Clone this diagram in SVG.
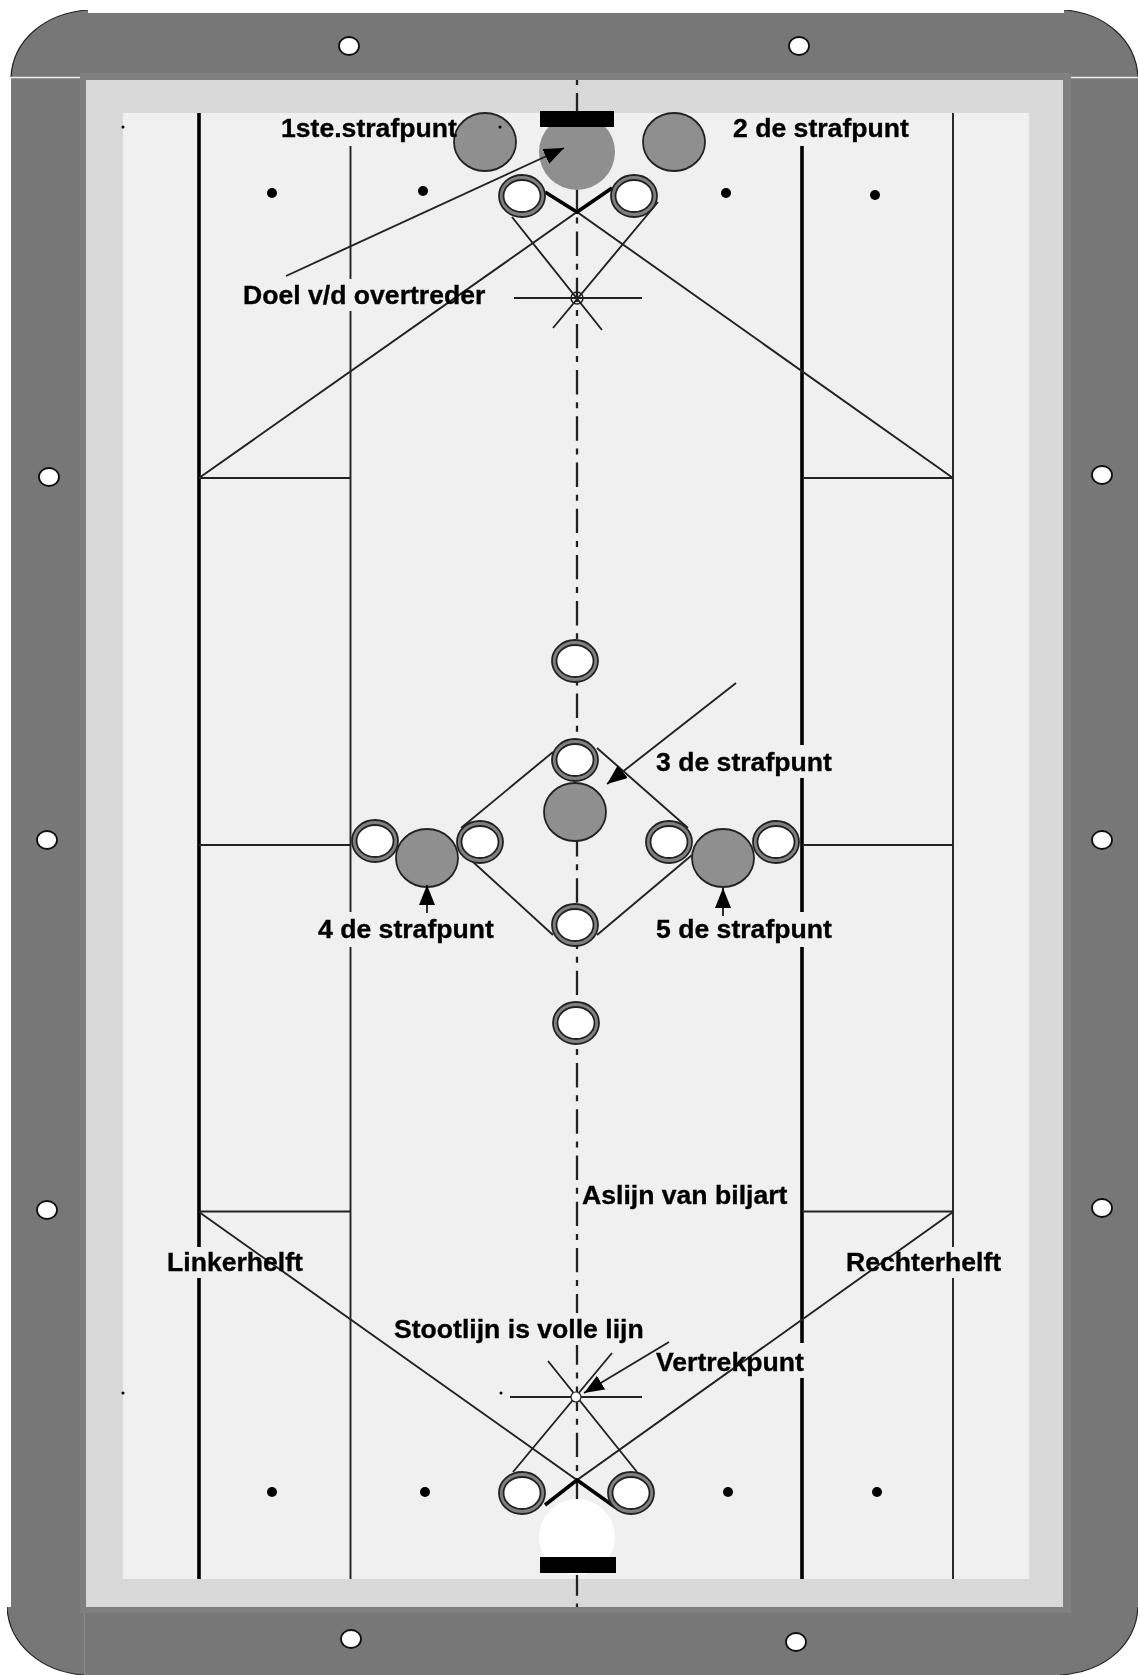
<svg xmlns="http://www.w3.org/2000/svg" width="1138" height="1675" viewBox="0 0 1138 1675">
<style>
.t{font:bold 26.6px "Liberation Sans",Arial,sans-serif;fill:#000;stroke:#000;stroke-width:.35}
.l{stroke:#222;stroke-width:1.9;fill:none}
.k{stroke:#000;stroke-width:3.6;fill:none}
.c{stroke:#222;stroke-width:2.3;fill:none;stroke-dasharray:24.4 7.8 6 8}
.g{fill:#8f8f8f;stroke:#222;stroke-width:1.8}
.o{fill:#808080;stroke:#222;stroke-width:1.8}
.i{fill:#fff;stroke:#222;stroke-width:1.8}
.d{fill:#000}
.h{fill:#fff;stroke:#111;stroke-width:1.8}
</style>
<defs>
<filter id="s" x="0" y="0" width="100%" height="100%"><feGaussianBlur stdDeviation="0.45"/></filter>
<marker id="a" markerUnits="userSpaceOnUse" markerWidth="24" markerHeight="18" refX="20" refY="8" orient="auto"><path d="M0 0L20 8L0 16Z" fill="#000"/></marker>
<g id="b"><ellipse class="o" rx="23" ry="21"/><ellipse class="i" rx="18.500" ry="16"/></g>
</defs>
<rect width="1138" height="1675" fill="#fff"/>
<g filter="url(#s)">
<g id="table">
<path d="M11 77C13 40 45 13 88 10V13H1064V10C1105 13 1136 40 1138 77V1607C1136 1645 1105 1672 1060 1675H84C42 1672 9 1645 7 1607L11 1607Z" fill="#777"/>
<path d="M11 77C13 40 45 13 88 10M1064 10C1105 13 1136 40 1138 77M7 1607C9 1645 42 1672 84 1675M1138 1607C1136 1645 1105 1672 1060 1675" fill="none" stroke="#222" stroke-width="1.2"/>
<rect x="80" y="73" width="991" height="1540" fill="#808080"/>
<rect x="86" y="80" width="977" height="1527" fill="#d9d9d9"/>
<rect x="123" y="113" width="906" height="1466" fill="#f0f0f0"/>
<path d="M11 77.500H80M1071 77.500H1138" stroke="#eee" stroke-width="1.500"/>
<path d="M84.500 1613V1675" stroke="#8c8c8c" stroke-width="1.200"/>
</g>
<g id="holes">
<ellipse class="h" cx="349" cy="46" rx="10" ry="9"/><ellipse class="h" cx="799" cy="46" rx="10" ry="9"/>
<ellipse class="h" cx="49" cy="477" rx="10" ry="9"/><ellipse class="h" cx="47" cy="840" rx="10" ry="9"/><ellipse class="h" cx="47" cy="1210" rx="10" ry="9"/>
<ellipse class="h" cx="1102" cy="475" rx="10" ry="9"/><ellipse class="h" cx="1102" cy="840" rx="10" ry="9"/><ellipse class="h" cx="1102" cy="1208" rx="10" ry="9"/>
<ellipse class="h" cx="351" cy="1639" rx="10" ry="9"/><ellipse class="h" cx="796" cy="1642" rx="10" ry="9"/>
</g>
<g id="connectors">
<path class="k" d="M199 113V1247M199 1278V1579M802 146V745M802 778V912M802 947V1343M802 1378V1579"/>
<path class="l" d="M350.500 146V279M350.500 311V912M350.500 947V1579M953 113V1247M953 1278V1579"/>
<path class="l" d="M199 478H350M802 478H953M199 845H350M802 845H953M199 1211.500H350M802 1211.500H953"/>
<path class="l" d="M199 478L577 212L953 478M199 1212L577 1480L953 1212"/>
<path class="c" stroke-dashoffset="33.300" d="M577 80V1313"/>
<path class="c" stroke-dashoffset="4.700" d="M577 1345V1607"/>
<path class="l" d="M512 217L602 330M658 202L553 328M514 298H642"/>
<path class="l" d="M513 1472L612 1353M637 1472L548 1361M510 1397H642"/>
<path class="k" d="M545 192L577 212L612 188M545 1505L577 1480L615 1507"/>
<path class="l" d="M553 752L461 828M597 748L688 828M461 851L553 935M597 935L692 855"/>
</g>
<g id="spot-top">
<circle cx="577" cy="152" r="38" fill="#8f8f8f"/>
<rect x="540" y="111" width="74" height="16" fill="#000"/>
<ellipse class="g" cx="485" cy="142" rx="31" ry="29"/>
<ellipse class="g" cx="674" cy="142" rx="31" ry="29"/>
<use href="#b" x="522" y="196"/><use href="#b" x="634" y="196"/>
<circle cx="577" cy="298" r="6" fill="none" stroke="#222" stroke-width="1.500"/>
</g>
<g id="spot-mid">
<use href="#b" x="575" y="661"/><use href="#b" x="575" y="760"/>
<ellipse class="g" cx="575" cy="812" rx="31" ry="29"/>
<ellipse class="g" cx="427" cy="858" rx="31" ry="29"/><ellipse class="g" cx="723" cy="858" rx="31" ry="29"/>
<use href="#b" x="375" y="841"/><use href="#b" x="480" y="842"/><use href="#b" x="669" y="842"/><use href="#b" x="776" y="842"/>
<use href="#b" x="575" y="925"/><use href="#b" x="576" y="1023"/>
</g>
<g id="spot-bottom">
<circle cx="577" cy="1537" r="38" fill="#fff"/>
<rect x="540" y="1557" width="76" height="16" fill="#000"/>
<use href="#b" x="522" y="1493"/><use href="#b" x="631" y="1493"/>
<circle cx="576" cy="1397" r="5" fill="#fff" stroke="#222" stroke-width="1.200"/>
</g>
<g id="dots">
<circle class="d" cx="272" cy="193" r="5"/><circle class="d" cx="423" cy="191" r="5"/><circle class="d" cx="726" cy="193" r="5"/><circle class="d" cx="875" cy="195" r="5"/>
<circle class="d" cx="272" cy="1492" r="5"/><circle class="d" cx="425" cy="1492" r="5"/><circle class="d" cx="728" cy="1492" r="5"/><circle class="d" cx="877" cy="1492" r="5"/>
<circle class="d" cx="123" cy="127" r="1.500"/><circle class="d" cx="500" cy="127" r="1.500"/><circle class="d" cx="123" cy="1393" r="1.500"/><circle class="d" cx="501" cy="1393" r="1.500"/>
</g>
<g id="arrows">
<path class="l" marker-end="url(#a)" d="M286 276L564 148"/>
<path class="l" marker-end="url(#a)" d="M736 683L607 784"/>
<path class="l" marker-end="url(#a)" d="M427 913V885"/>
<path class="l" marker-end="url(#a)" d="M723 916V888"/>
<path class="l" marker-end="url(#a)" d="M669 1342L584 1393"/>
</g>
<g id="labels">
<text class="t" x="281" y="137">1ste.strafpunt</text>
<text class="t" x="733" y="137">2 de strafpunt</text>
<text class="t" x="243" y="304">Doel v/d overtreder</text>
<text class="t" x="656" y="771">3 de strafpunt</text>
<text class="t" x="318" y="938">4 de strafpunt</text>
<text class="t" x="656" y="938">5 de strafpunt</text>
<text class="t" x="582" y="1204">Aslijn van biljart</text>
<text class="t" x="167" y="1271">Linkerhelft</text>
<text class="t" x="846" y="1271">Rechterhelft</text>
<text class="t" x="394" y="1338">Stootlijn is volle lijn</text>
<text class="t" x="656" y="1371">Vertrekpunt</text>
</g>
</g>
</svg>
